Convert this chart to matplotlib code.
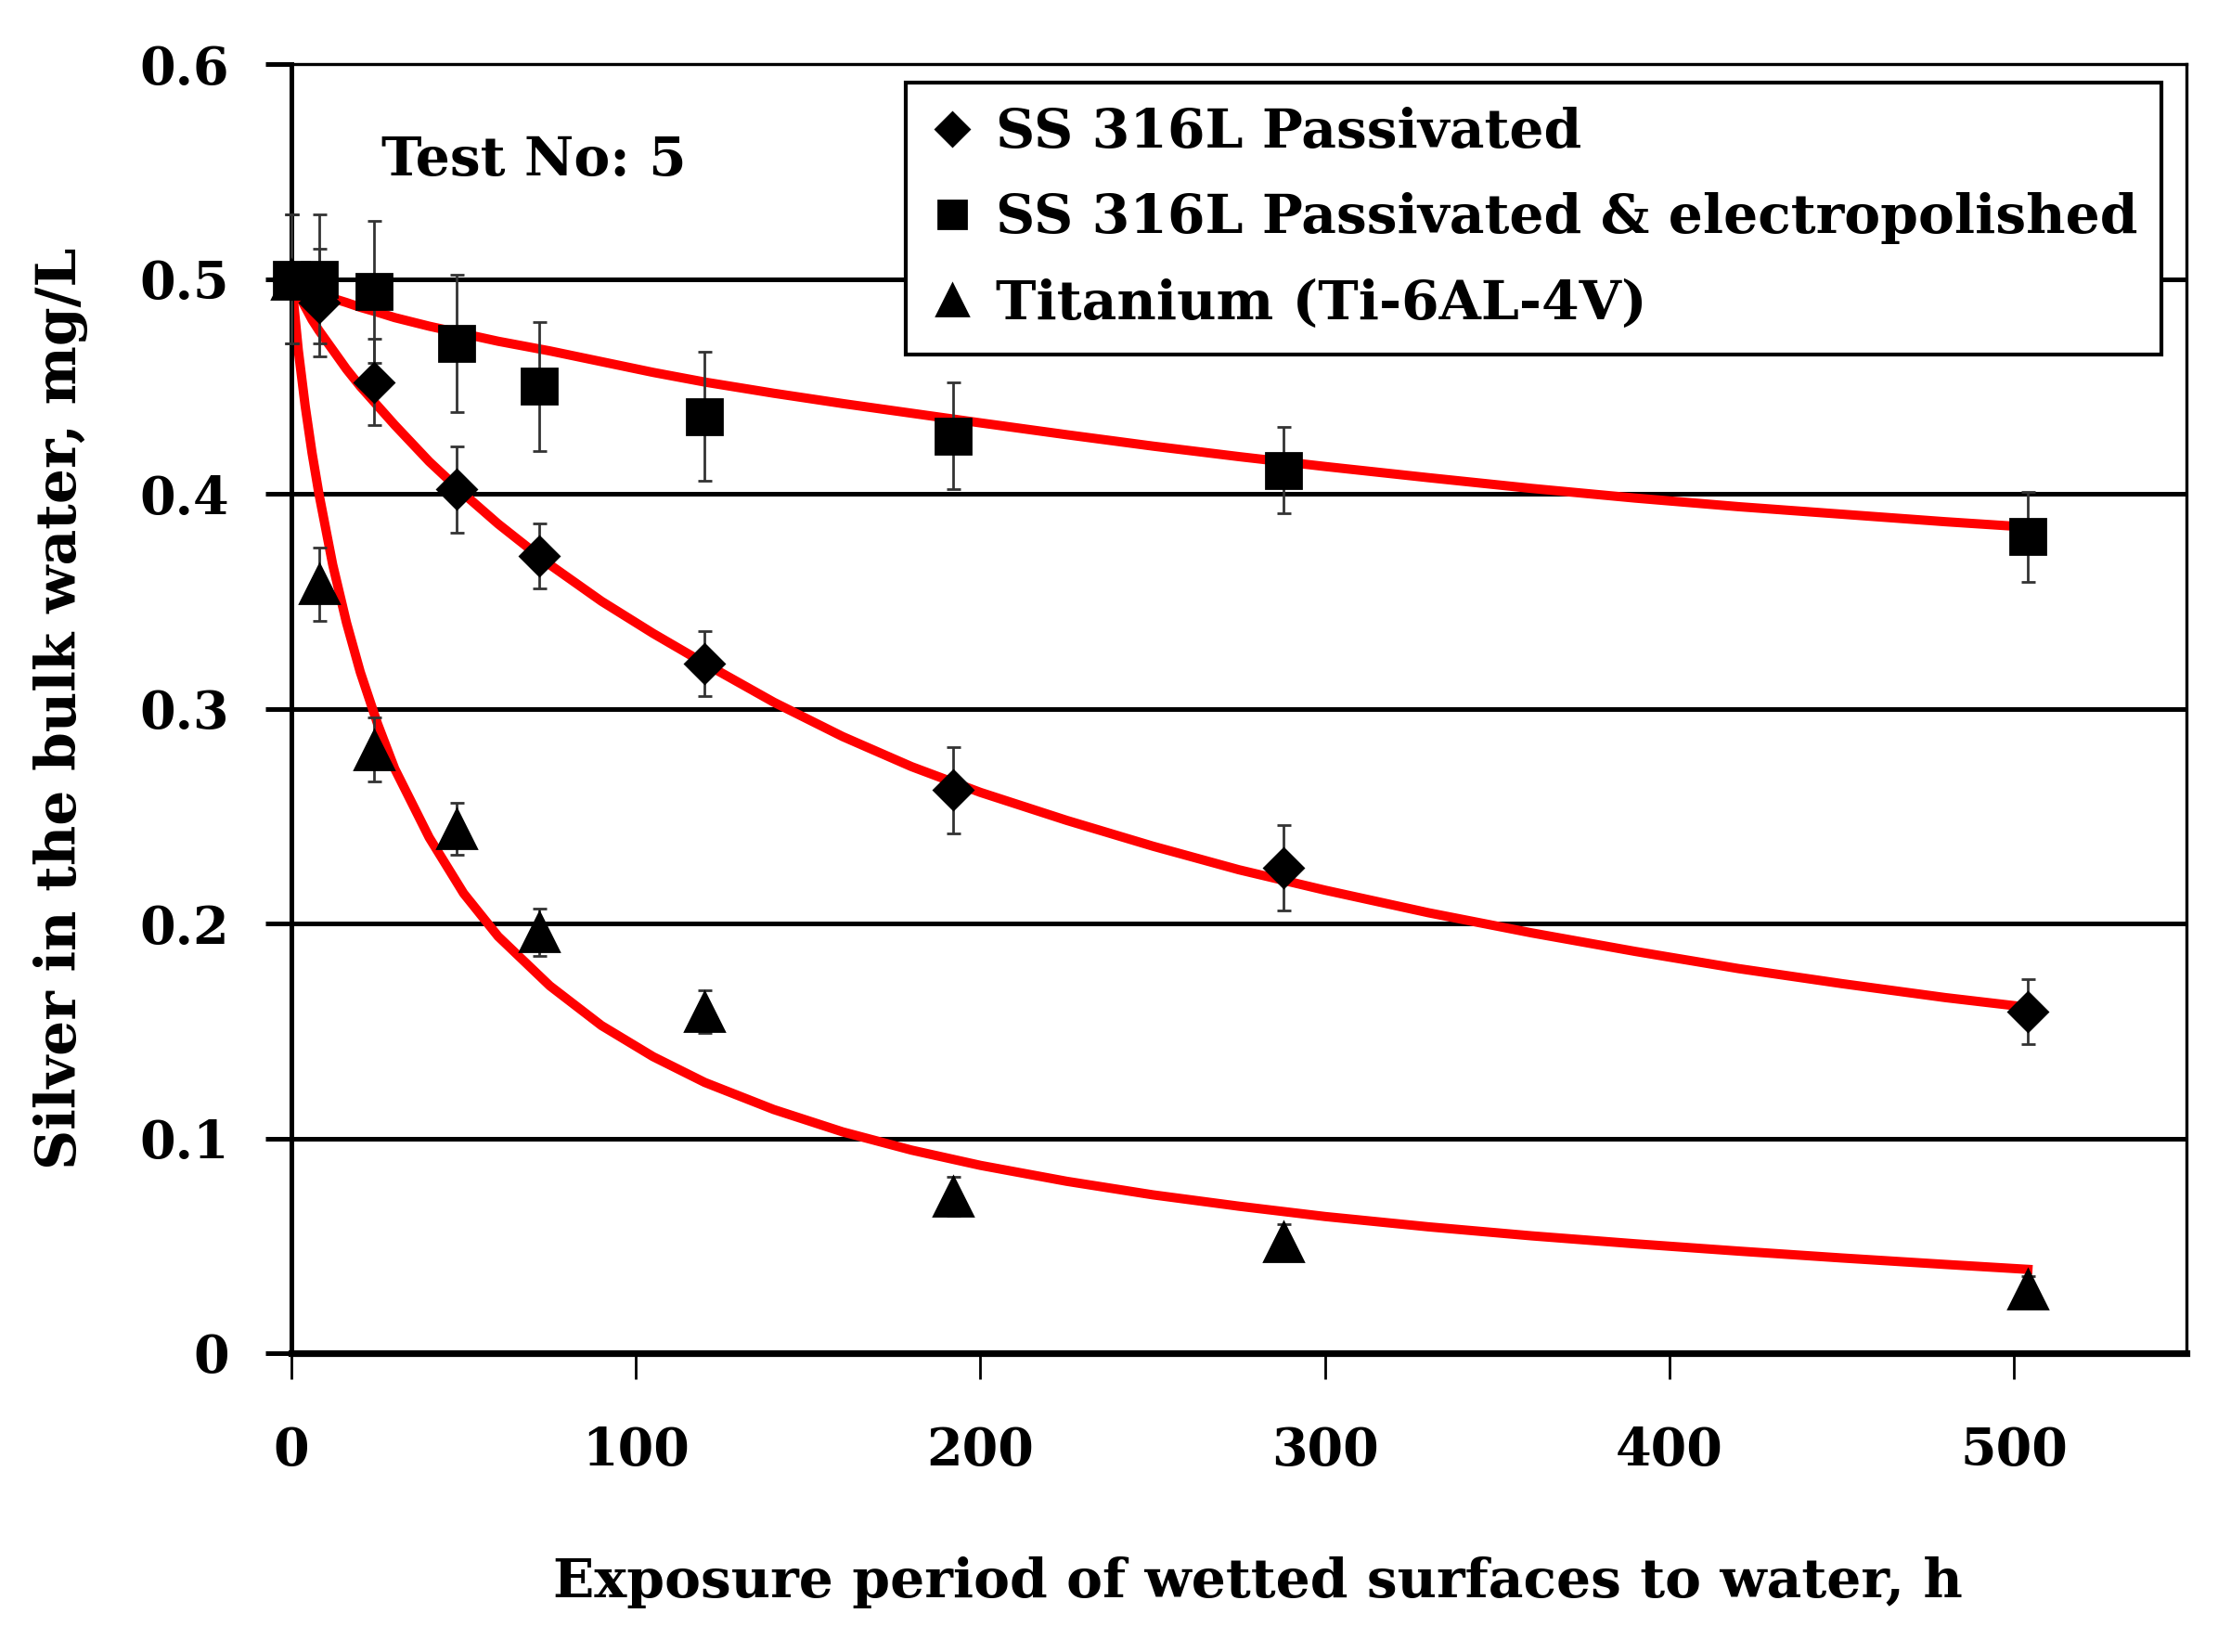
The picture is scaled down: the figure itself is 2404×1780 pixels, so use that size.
import matplotlib
matplotlib.use("Agg")
import matplotlib.pyplot as plt
from matplotlib.lines import Line2D

plt.rcParams['font.family'] = ['DejaVu Serif']
plt.rcParams['font.weight'] = 'bold'

# measured points
hours = [0, 8, 24, 48, 72, 120, 192, 288, 504]
ss_pass = [0.500, 0.489, 0.452, 0.402, 0.371, 0.321, 0.262, 0.226, 0.159]
ss_pass_err = [0.030, 0.025, 0.020, 0.020, 0.015, 0.015, 0.020, 0.020, 0.015]
ss_ep = [0.500, 0.500, 0.494, 0.470, 0.450, 0.436, 0.427, 0.411, 0.380]
ss_ep_err = [0.030, 0.030, 0.033, 0.032, 0.030, 0.030, 0.025, 0.020, 0.021]
ti = [0.500, 0.358, 0.281, 0.244, 0.196, 0.159, 0.073, 0.052, 0.030]
ti_err = [0.030, 0.017, 0.015, 0.012, 0.011, 0.010, 0.009, 0.008, 0.006]

# fitted (red) curves
fit_t = [0, 2, 4, 6, 8, 12, 16, 20, 25, 30, 40, 50, 60, 75, 90, 105, 120,
         140, 160, 180, 200, 225, 250, 275, 300, 330, 360, 390, 420, 450, 480, 504]
fit_ss_pass = [0.500, 0.493, 0.487, 0.481, 0.476, 0.467, 0.458, 0.450, 0.441, 0.432,
               0.415, 0.400, 0.386, 0.367, 0.350, 0.335, 0.321, 0.303, 0.287, 0.273,
               0.261, 0.248, 0.236, 0.225, 0.2155, 0.205, 0.1956, 0.187, 0.179, 0.172,
               0.1655, 0.161]
fit_ss_ep = [0.500, 0.498, 0.4965, 0.495, 0.4935, 0.491, 0.489, 0.4868, 0.4845, 0.482,
             0.478, 0.4745, 0.471, 0.4665, 0.4615, 0.4565, 0.452, 0.4468, 0.442, 0.4375,
             0.433, 0.4275, 0.4222, 0.4173, 0.4127, 0.4075, 0.4025, 0.398, 0.394, 0.3905,
             0.387, 0.3845]
fit_ti = [0.500, 0.467, 0.441, 0.419, 0.400, 0.367, 0.340, 0.317, 0.293, 0.272,
          0.240, 0.214, 0.194, 0.171, 0.1525, 0.138, 0.126, 0.1134, 0.103, 0.0945,
          0.0874, 0.080, 0.0737, 0.0684, 0.0636, 0.0588, 0.0546, 0.0509, 0.0475, 0.0443,
          0.0413, 0.039]

labels = ['SS 316L Passivated', 'SS 316L Passivated & electropolished',
          'Titanium (Ti-6AL-4V)']

fig = plt.figure(figsize=(12.02, 8.9), dpi=200)
ax = fig.add_axes([0.1306, 0.1809, 0.8494, 0.7803])

for yy in [0.1, 0.2, 0.3, 0.4, 0.5]:
    ax.axhline(yy, color='black', lw=1.8, zorder=1)

ax.plot(fit_t, fit_ss_ep, color='red', lw=3.6, zorder=2)
ax.plot(fit_t, fit_ss_pass, color='red', lw=3.6, zorder=2)
ax.plot(fit_t, fit_ti, color='red', lw=3.6, zorder=2)

ekw = dict(ls='none', color='black', ecolor='#333333', elinewidth=1.0,
           capsize=2.7, capthick=1.0, zorder=3, clip_on=False)
ax.errorbar(hours, ss_ep, yerr=ss_ep_err, marker='s', ms=13.5, **ekw)
ax.errorbar(hours, ss_pass, yerr=ss_pass_err, marker='D', ms=10.5, **ekw)
ax.errorbar(hours, ti, yerr=ti_err, marker='^', ms=15, **ekw)

ax.set_xlim(0, 550)
ax.set_ylim(0, 0.6)
ax.set_xticks([0, 100, 200, 300, 400, 500])
ax.set_yticks([0, 0.1, 0.2, 0.3, 0.4, 0.5, 0.6])
ax.set_yticklabels(['0', '0.1', '0.2', '0.3', '0.4', '0.5', '0.6'])
ax.tick_params(axis='y', direction='out', length=10, width=1.8, pad=14, labelsize=20)
ax.tick_params(axis='x', direction='out', length=10, width=1.0, pad=18, labelsize=20)

ax.spines['left'].set_linewidth(1.8)
ax.spines['bottom'].set_linewidth(2.6)
ax.spines['top'].set_linewidth(1.2)
ax.spines['right'].set_linewidth(1.2)

ax.set_xlabel('Exposure period of wetted surfaces to water, h', fontsize=21,
              fontweight='bold', labelpad=31)
ax.xaxis.label.set_x(0.51)
ax.set_ylabel('Silver in the bulk water, mg/L', fontsize=21.5, fontweight='bold',
              labelpad=20)

ax.text(0.0475, 0.925, 'Test No: 5', transform=ax.transAxes, fontsize=21,
        fontweight='bold', va='center', ha='left')

handles = [Line2D([], [], ls='none', marker='D', color='black', ms=9),
           Line2D([], [], ls='none', marker='s', color='black', ms=11),
           Line2D([], [], ls='none', marker='^', color='black', ms=12)]
leg = ax.legend(handles, labels, loc='upper right', bbox_to_anchor=(0.987, 0.9856),
                borderaxespad=0, fontsize=21, frameon=True, fancybox=False,
                handlelength=0.8, handletextpad=0.4, labelspacing=0.62,
                borderpad=0.45)
leg.get_frame().set_edgecolor('black')
leg.get_frame().set_linewidth(1.5)
leg.get_frame().set_alpha(1)
leg.set_zorder(5)

fig.savefig('out.png', dpi=200, facecolor='white')
